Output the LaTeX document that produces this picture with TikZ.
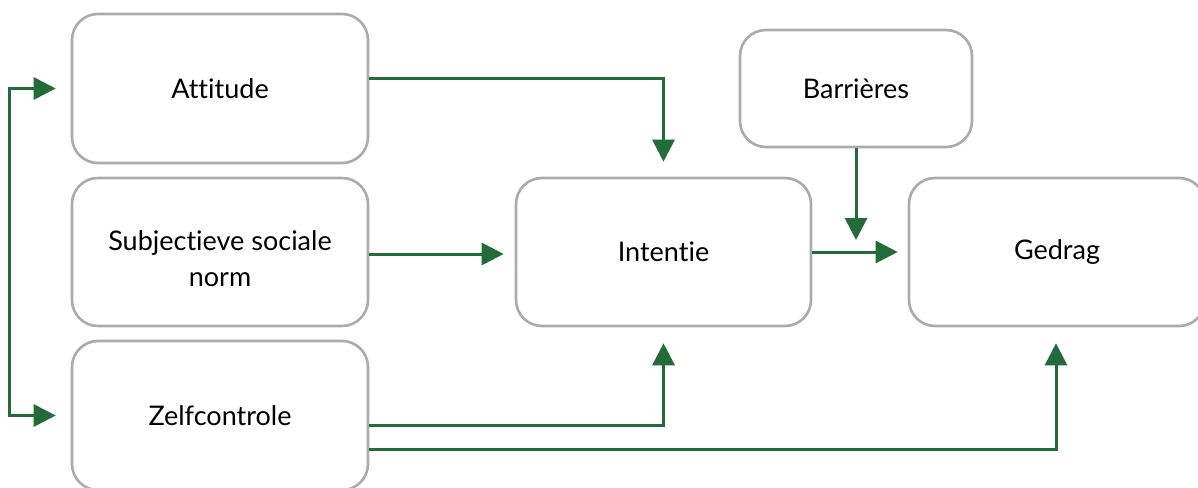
\documentclass[tikz,border=0pt]{standalone}
\usepackage{fontspec}
\setmainfont{Lato}[Ligatures={NoCommon}]
\usetikzlibrary{arrows.meta}
\definecolor{arrowgreen}{HTML}{236B38}
\definecolor{boxgray}{HTML}{ABABAB}
\tikzset{
  box/.style={draw=boxgray, line width=2.6pt, rounded corners=26pt, fill=white,
    align=center, inner sep=0pt, font=\fontsize{27}{35}\selectfont},
  arr/.style={draw=arrowgreen, line width=3pt, -{Triangle[length=22pt,width=22pt]}},
  arrboth/.style={draw=arrowgreen, line width=3pt,
    {Triangle[length=22pt,width=22pt]}-{Triangle[length=22pt,width=22pt]}},
}
\begin{document}
\begin{tikzpicture}[x=1pt,y=-1pt]
\useasboundingbox (0,0) rectangle (1198,487);
\clip (0,0) rectangle (1198,487);
\fill[white] (0,0) rectangle (1198,487);

% boxes
\node[box, minimum width=296pt, minimum height=149pt] (att)  at (220,88.5)  {Attitude};
\node[box, minimum width=296pt, minimum height=148pt] (subj) at (220,252)   {\rule{0pt}{33pt}Subjectieve sociale\\[1pt]norm};
\node[box, minimum width=296pt, minimum height=149pt] (zelf) at (220,415.5) {Zelfcontrole};
\node[box, minimum width=295pt, minimum height=148pt] (int)  at (663.5,252) {Intentie};
\node[box, minimum width=296pt, minimum height=148pt] (ged)  at (1057,252)  {Gedrag};
\node[box, minimum width=232pt, minimum height=117pt] (bar)  at (856,88.5)  {Barrières};

% left bracket feeding attitude and self-control
\coordinate (lt) at (9,88.5);
\coordinate (lb) at (9,415.5);
\draw[arrboth] ([xshift=-15pt]att.west) -- (lt) -- (lb) -- ([xshift=-15pt]zelf.west);

% arrows into intention
\draw[arr] (att.east |- 0,78) -| ([yshift=15pt]int.north);
\draw[arr] (subj.east |- 0,254) -- ([xshift=-11pt]int.west |- 0,254);
\draw[arr] (zelf.east |- 0,425) -| ([yshift=-16pt]int.south);

% arrows into behaviour
\draw[arr] (int.east) -- ([xshift=-10pt]ged.west);
\draw[arr] (zelf.east |- 0,449) -| ([xshift=-1pt,yshift=-16pt]ged.south);
\coordinate (bartip) at (856,240);
\draw[arr] (bar.south) -- (bartip);
\end{tikzpicture}
\end{document}
